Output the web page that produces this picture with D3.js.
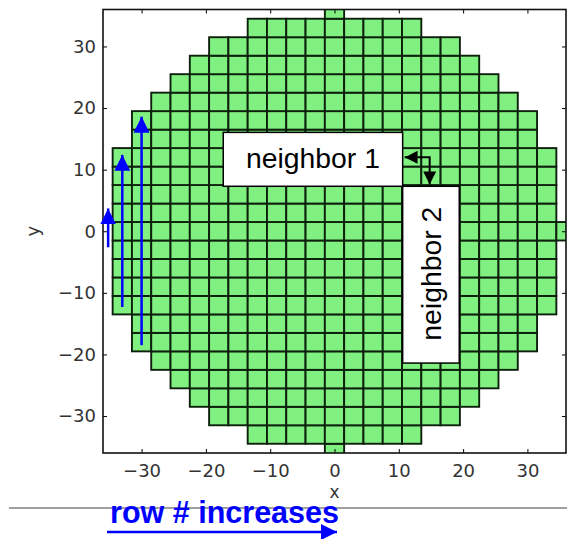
<!DOCTYPE html>
<html>
<head>
<meta charset="utf-8">
<script src="https://cdn.jsdelivr.net/npm/d3@7"></script>
<style>
  html, body { margin: 0; padding: 0; background: #fff; }
  svg { display: block; }
</style>
</head>
<body>
<svg id="chart" width="572" height="539"></svg>
<script>
// Detector cells: one column per x centre, filled from yMin to yMax in steps of the cell pitch
const cellPitch = 3;
const colX    = [-33, -30, -27, -24, -21, -18, -15, -12, -9, -6, -3,   0,  3,  6,  9, 12, 15, 18, 21, 24, 27, 30, 33, 36];
const colYMin = [-12, -18, -21, -24, -27, -30, -30, -33, -33, -33, -33, -36, -33, -33, -33, -33, -30, -30, -27, -24, -21, -18, -12, 0];
const colYMax = [ 12,  18,  21,  24,  27,  30,  30,  33,  33,  33,  33,  36,  33,  33,  33,  33,  30,  30,  27,  24,  21,  18,  12, 0];

// Axis ticks
const xTicks = [-30, -20, -10, 0, 10, 20, 30];
const yTicks = [-30, -20, -10, 0, 10, 20, 30];

// Blue "row scan" arrows (data coordinates): column x, tail y, head y
const scanArrowX  = [-35.2, -33, -30];
const scanArrowY0 = [-2.6, -12.3, -18.5];
const scanArrowY1 = [3.7, 12.4, 18.6];

// Neighbour labels (data coordinates of the boxes)
const boxLabels = ["neighbor 1", "neighbor 2"];
const boxX0 = [-17.3, 10.6];
const boxX1 = [10.6, 19.4];
const boxY0 = [7.3, -21.4];
const boxY1 = [16.05, 7.3];

// Elbow arrow linking the two neighbours: head 1, corner, head 2
const elbowX = [10.9, 14.8, 14.8];
const elbowY = [12.0, 12.0, 7.6];

const svg = d3.select("#chart");

const x = d3.scaleLinear().domain([-36, 36]).range([103, 566]);
const y = d3.scaleLinear().domain([-36, 36]).range([453, 9.5]);

// arrowhead markers
const defs = svg.append("defs");
function marker(id, color, w, h, reverse) {
  defs.append("marker")
    .attr("id", id)
    .attr("viewBox", "0 0 10 10")
    .attr("refX", reverse ? 0 : 10).attr("refY", 5)
    .attr("markerUnits", "userSpaceOnUse")
    .attr("markerWidth", w).attr("markerHeight", h)
    .attr("orient", "auto")
    .append("path")
    .attr("d", reverse ? "M10,0 L0,5 L10,10 Z" : "M0,0 L10,5 L0,10 Z")
    .attr("fill", color);
}
marker("blueHead", "#0000ff", 16, 17, false);
marker("blackHead", "#000", 13, 14, false);
marker("blackHeadRev", "#000", 13, 14, true);

defs.append("clipPath").attr("id", "plotClip")
  .append("rect")
  .attr("x", x(-36)).attr("y", y(36))
  .attr("width", x(36) - x(-36)).attr("height", y(-36) - y(36));

// build cells from the column extents
const cells = [];
colX.forEach((cx, i) => {
  for (let cy = colYMin[i]; cy <= colYMax[i]; cy += cellPitch) cells.push({ x: cx, y: cy });
});

const half = cellPitch / 2;
svg.append("g").attr("clip-path", "url(#plotClip)")
  .selectAll("rect").data(cells).join("rect")
  .attr("x", d => x(d.x - half))
  .attr("y", d => y(d.y + half))
  .attr("width", d => x(d.x + half) - x(d.x - half))
  .attr("height", d => y(d.y - half) - y(d.y + half))
  .attr("fill", "#80f080")
  .attr("stroke", "#0c200c")
  .attr("stroke-width", 1.9);

// axes frame with inward ticks on all sides
const tickLen = 4;
const minus = d => d3.format("d")(d).replace("-", "\u2212");
const axisG = svg.append("g");
const xAxisB = d3.axisBottom(x).tickValues(xTicks).tickSizeInner(-tickLen).tickSizeOuter(0)
  .tickPadding(11).tickFormat(minus);
const yAxisL = d3.axisLeft(y).tickValues(yTicks).tickSizeInner(-tickLen).tickSizeOuter(0)
  .tickPadding(7).tickFormat(minus);
const xAxisT = d3.axisTop(x).tickValues(xTicks).tickSizeInner(-tickLen).tickSizeOuter(0).tickFormat("");
const yAxisR = d3.axisRight(y).tickValues(yTicks).tickSizeInner(-tickLen).tickSizeOuter(0).tickFormat("");

function styleAxis(g) {
  g.select(".domain").remove();
  g.selectAll(".tick line").attr("stroke", "#000").attr("stroke-width", 1);
  g.selectAll(".tick text").attr("fill", "#333").attr("font-family", "DejaVu Sans").attr("font-size", 18);
}
axisG.append("g").attr("transform", `translate(0,${y(-36)})`).call(xAxisB).call(styleAxis);
axisG.append("g").attr("transform", `translate(${x(-36)},0)`).call(yAxisL).call(styleAxis);
axisG.append("g").attr("transform", `translate(0,${y(36)})`).call(xAxisT).call(styleAxis);
axisG.append("g").attr("transform", `translate(${x(36)},0)`).call(yAxisR).call(styleAxis);

axisG.append("rect")
  .attr("x", x(-36)).attr("y", y(36))
  .attr("width", x(36) - x(-36)).attr("height", y(-36) - y(36))
  .attr("fill", "none").attr("stroke", "#111").attr("stroke-width", 1.6);

// axis titles
svg.append("text").attr("x", x(0)).attr("y", 498)
  .attr("text-anchor", "middle").attr("font-family", "DejaVu Sans").attr("font-size", 17).attr("fill", "#333")
  .text("x");
svg.append("text").attr("transform", `translate(39,${y(0)}) rotate(-90)`)
  .attr("text-anchor", "middle").attr("font-family", "DejaVu Sans").attr("font-size", 18).attr("fill", "#333")
  .text("y");

// blue scan arrows along the first columns
svg.append("g").selectAll("line").data(scanArrowX).join("line")
  .attr("x1", d => x(d)).attr("x2", d => x(d))
  .attr("y1", (d, i) => y(scanArrowY0[i]))
  .attr("y2", (d, i) => y(scanArrowY1[i]))
  .attr("stroke", "#0000ff").attr("stroke-width", 2.5)
  .attr("marker-end", "url(#blueHead)");

// neighbour boxes
const boxes = svg.append("g");
boxLabels.forEach((label, i) => {
  const bx = x(boxX0[i]), by = y(boxY1[i]);
  const bw = x(boxX1[i]) - bx, bh = y(boxY0[i]) - by;
  boxes.append("rect").attr("x", bx).attr("y", by).attr("width", bw).attr("height", bh)
    .attr("fill", "#fff").attr("stroke", "#000").attr("stroke-width", 1.5);
  const t = boxes.append("text")
    .attr("font-family", "Liberation Sans, Arial, sans-serif").attr("font-size", 27)
    .attr("fill", "#000").attr("text-anchor", "middle").attr("dominant-baseline", "central")
    .attr("textLength", 134).attr("lengthAdjust", "spacingAndGlyphs")
    .text(label);
  if (i === 0) {
    t.attr("x", bx + bw / 2).attr("y", by + bh / 2);
  } else {
    t.attr("transform", `translate(${bx + bw / 2 + 1},${by + bh / 2 - 1}) rotate(-90)`);
  }
});

// elbow arrow, heads at both ends
const elbowPts = elbowX.map((d, i) => [x(d), y(elbowY[i])]);
svg.append("path")
  .attr("d", d3.line()(elbowPts))
  .attr("fill", "none").attr("stroke", "#000").attr("stroke-width", 2)
  .attr("marker-start", "url(#blackHeadRev)")
  .attr("marker-end", "url(#blackHead)");

// caption below the plot
svg.append("line").attr("x1", 9).attr("x2", 567).attr("y1", 508).attr("y2", 508)
  .attr("stroke", "#a0a0a0").attr("stroke-width", 2);
svg.append("text").attr("x", 110).attr("y", 523)
  .attr("font-family", "Liberation Sans, Arial, sans-serif").attr("font-size", 31).attr("font-weight", "bold")
  .attr("fill", "#0000ff").attr("textLength", 229).attr("lengthAdjust", "spacingAndGlyphs")
  .text("row # increases");
svg.append("line").attr("x1", 107).attr("x2", 337).attr("y1", 532).attr("y2", 532)
  .attr("stroke", "#0000ff").attr("stroke-width", 2.5)
  .attr("marker-end", "url(#blueHead)");
</script>
</body>
</html>
